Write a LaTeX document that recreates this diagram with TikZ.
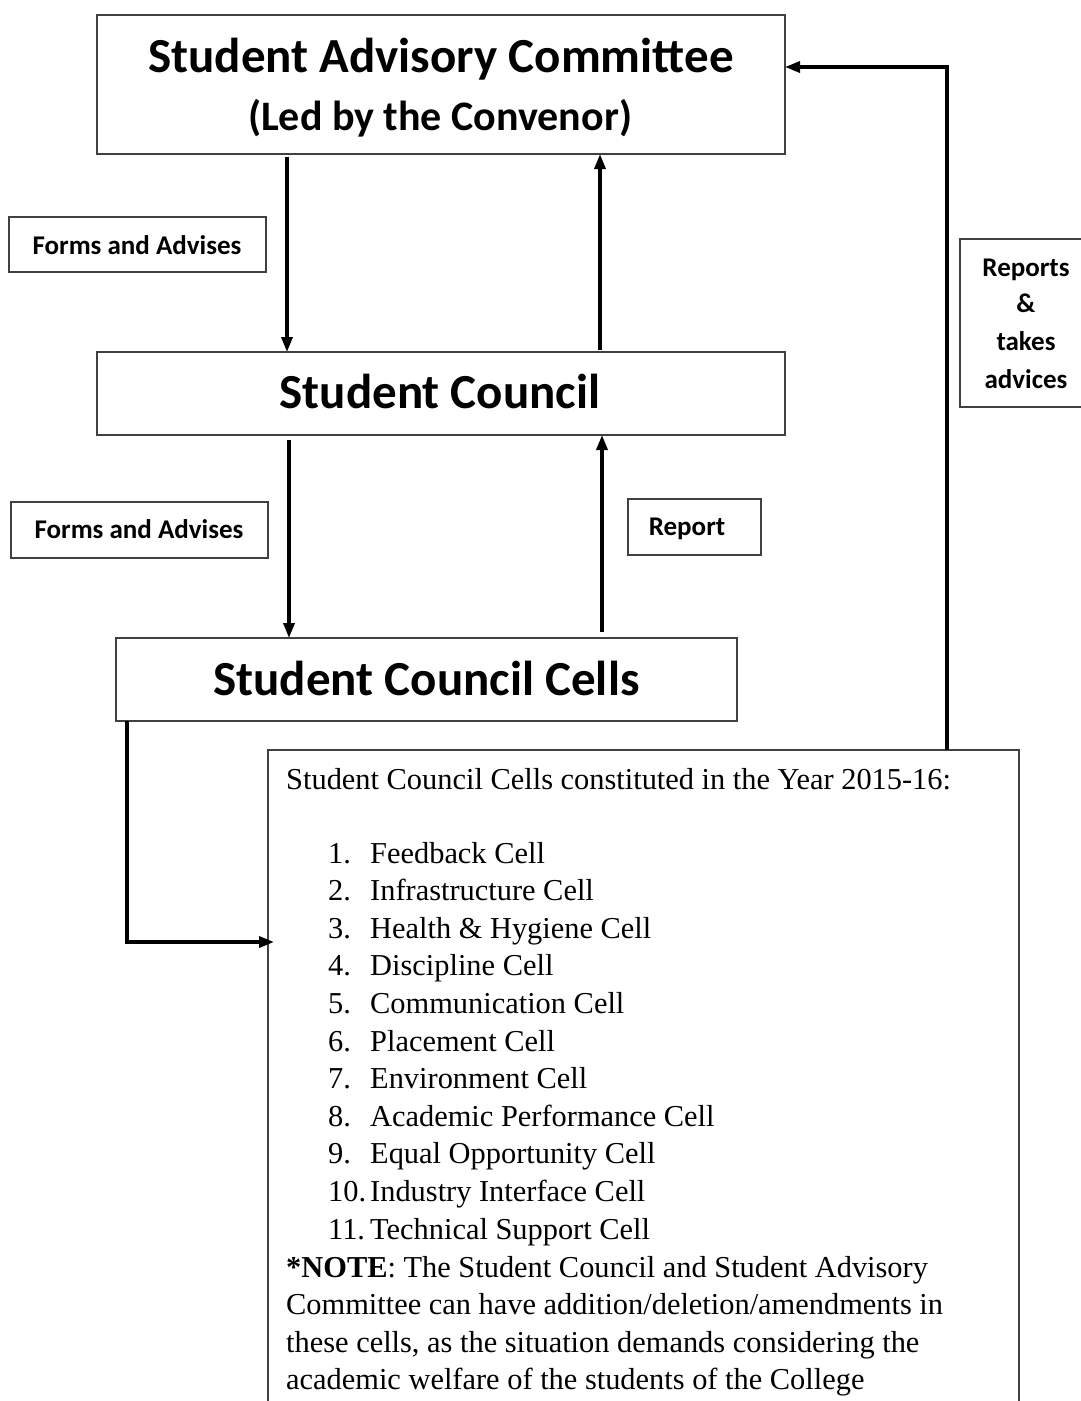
\documentclass[tikz,border=0pt]{standalone}
\usepackage{fontspec}
\setmainfont{Liberation Serif}
\newfontfamily\calfont{Carlito}
\usetikzlibrary{arrows.meta}
\begin{document}
\begin{tikzpicture}[x=1pt,y=-1pt,
  box/.style={draw=black!75, line width=1.4pt, inner sep=0pt, outer sep=0pt},
  conn/.style={line width=3.4pt, -{Triangle[length=15pt,width=11pt]}},
  bigtxt/.style={font=\calfont\bfseries\fontsize{49}{59}\selectfont, anchor=base, inner sep=0pt},
  lbl/.style={font=\calfont\bfseries\fontsize{27}{33}\selectfont, anchor=base, inner sep=0pt},
  serif/.style={font=\fontsize{30.4}{37}\selectfont, anchor=base west, inner sep=0pt}]
\useasboundingbox (0,0) rectangle (1081,1401);
\clip (0,0) rectangle (1081,1401);
\fill[white] (0,0) rectangle (1081,1401);

% main boxes
\node[box, minimum width=688pt, minimum height=139pt] (sac) at (441,84.5) {};
\node[bigtxt] (sact1) at (441,72) {Student Advisory Committee};
\node[bigtxt, font=\calfont\bfseries\fontsize{42}{50}\selectfont] (sact2) at (440,130) {(Led by the Convenor)};

\node[box, minimum width=688pt, minimum height=83pt] (sc) at (441,393.5) {};
\node[bigtxt] (sct) at (440,408) {Student Council};

\node[box, minimum width=621pt, minimum height=83pt] (scc) at (426.5,679.5) {};
\node[bigtxt] (scct) at (426.5,695) {Student Council Cells};

% label boxes
\node[box, minimum width=257pt, minimum height=55pt] (fa1) at (137.5,244.5) {};
\node[lbl] (fa1t) at (137,254) {Forms and Advises};
\node[box, minimum width=257pt, minimum height=56pt] (fa2) at (139.5,530) {};
\node[lbl] (fa2t) at (139,538) {Forms and Advises};
\node[box, minimum width=133pt, minimum height=56pt] (rep) at (694.5,527) {};
\node[lbl] (rept) at (687,535) {Report};
\node[box, minimum width=130pt, minimum height=168pt] (rta) at (1025,323) {};
\node[lbl] (rta1) at (1026,276) {Reports};
\node[lbl] (rta2) at (1026,312) {\&};
\node[lbl] (rta3) at (1026,350) {takes};
\node[lbl] (rta4) at (1026,388) {advices};

% list box
\node[box, minimum width=751pt, minimum height=700pt] (list) at (643.5,1100) {};
\node[serif] (ltitle) at (286,789) {Student Council Cells constituted in the Year 2015-16:};
\foreach \n/\t [count=\i from 0] in {1/Feedback Cell,2/Infrastructure Cell,3/Health \& Hygiene Cell,4/Discipline Cell,5/Communication Cell,6/Placement Cell,7/Environment Cell,8/Academic Performance Cell,9/Equal Opportunity Cell,10/Industry Interface Cell,11/Technical Support Cell}{
  \node[serif] (num\n) at (328,863+37.6*\i) {\n.};
  \node[serif] (item\n) at (370,863+37.6*\i) {\t};
}
\node[serif] (note1) at (286,1277) {\textbf{*NOTE}: The Student Council and Student Advisory};
\node[serif] (note2) at (286,1314.5) {Committee can have addition/deletion/amendments in};
\node[serif] (note3) at (286,1352) {these cells, as the situation demands considering the};
\node[serif] (note4) at (286,1389.5) {academic welfare of the students of the College};

% connectors
\coordinate (a1) at (287,0);
\coordinate (a2) at (600,0);
\coordinate (a3) at (289,0);
\coordinate (a4) at (602,0);
\coordinate (c5) at (127,942);
\coordinate (c6) at (947,67);
\draw[conn] ([yshift=-3pt]sac.south -| a1) -- (sc.north -| a1);
\draw[conn] ([yshift=2pt]sc.north -| a2) -- (sac.south -| a2);
\draw[conn] ([yshift=-5pt]sc.south -| a3) -- (scc.north -| a3);
\draw[conn] ([yshift=6pt]scc.north -| a4) -- (sc.south -| a4);
\draw[conn] (scc.south -| c5) |- ([xshift=6pt]list.west |- c5);
\draw[conn] (list.north -| c6) |- (sac.east |- c6);
\end{tikzpicture}
\end{document}
